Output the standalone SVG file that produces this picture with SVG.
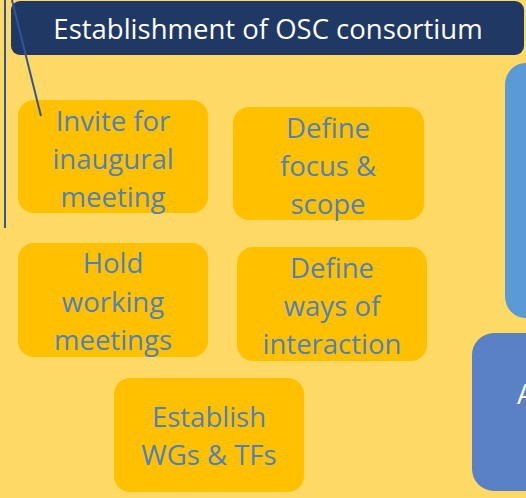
<svg xmlns="http://www.w3.org/2000/svg" width="526" height="498" viewBox="0 0 526 498">
<style>
.bg{fill:#FFD966}
.task{fill:#FFC000}
.tt{font-family:"Open Sans","Liberation Sans",sans-serif;font-size:27.5px;fill:#4F81BD;text-anchor:middle}
.hdr{fill:#203864}
.ht{font-family:"Open Sans","Liberation Sans",sans-serif;font-size:27.5px;fill:#FFFFFF;text-anchor:middle}
.ln{stroke:#2F5597;stroke-width:2;fill:none}
</style>
<rect class="bg" x="0" y="0" width="526" height="498"/>
<g id="header">
<rect class="hdr" x="11" y="1" width="513" height="54" rx="9"/>
<text class="ht" x="268" y="39">Establishment of OSC consortium</text>
</g>
<g id="blue-top">
<rect x="505" y="63" width="40" height="255" rx="22" fill="#5B9BD5"/>
</g>
<g id="blue-bottom">
<rect x="472" y="333" width="80" height="158" rx="22" fill="#5A81C6"/>
<text x="517" y="404" font-family="Open Sans, Liberation Sans, sans-serif" font-size="27.5" fill="#FFFFFF">A</text>
</g>
<g id="invite">
<rect class="task" x="18" y="100" width="190" height="113" rx="16"/>
<text class="tt" x="113" y="131">Invite for</text>
<text class="tt" x="113" y="169">inaugural</text>
<text class="tt" x="113" y="207">meeting</text>
</g>
<g id="focus">
<rect class="task" x="233" y="107" width="191" height="113" rx="16"/>
<text class="tt" x="328" y="138">Define</text>
<text class="tt" x="328" y="176">focus &amp;</text>
<text class="tt" x="328" y="214">scope</text>
</g>
<g id="hold">
<rect class="task" x="18" y="243" width="190" height="114" rx="16"/>
<text class="tt" x="113" y="273">Hold</text>
<text class="tt" x="113" y="312">working</text>
<text class="tt" x="113" y="350">meetings</text>
</g>
<g id="ways">
<rect class="task" x="237" y="247" width="190" height="114" rx="16"/>
<text class="tt" x="332" y="278">Define</text>
<text class="tt" x="332" y="316">ways of</text>
<text class="tt" x="332" y="354">interaction</text>
</g>
<g id="establish">
<rect class="task" x="114" y="378" width="190" height="114" rx="16"/>
<text class="tt" x="209" y="427">Establish</text>
<text class="tt" x="209" y="465">WGs &amp; TFs</text>
</g>
<g id="connectors">
<line class="ln" x1="5" y1="0" x2="5" y2="228"/>
<line class="ln" x1="12" y1="0" x2="41" y2="116"/>
</g>
</svg>
